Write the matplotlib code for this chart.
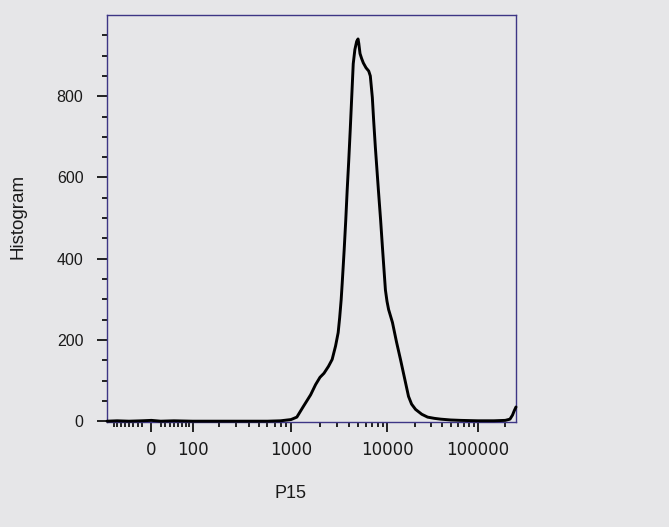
import numpy as np
import matplotlib
matplotlib.use("Agg")
import matplotlib.pyplot as plt
from matplotlib.ticker import FixedLocator, NullFormatter

# ---- data ----
fl_values = [-110, -80, -50, -20, 0, 20, 50, 100, 200, 400, 600, 800, 1000, 1150, 1334,
             1600, 1800, 2000, 2200, 2450, 2674, 2900, 3087, 3200, 3316, 3400, 3479, 3563,
             3700, 3828, 3970, 4115, 4270, 4423, 4600, 4800, 4958, 5050, 5200, 5400, 5626,
             6000, 6400, 6646, 6800, 6975, 7200, 7499, 8061, 8500, 8872, 9200, 9531, 9900,
             10300, 11365, 12600, 13945, 15500, 17113, 18500, 20470,
             24000, 27826, 33000, 38930, 50000, 64700, 100000, 150000, 200000,
             225000, 240000, 250000, 262144]
counts = [0, 1, 0, 1, 2, 0, 1, 0, 0, 0, 0, 1, 4, 10, 35,
          65, 90, 108, 118, 135, 152, 185, 218, 255, 299, 340, 380, 422,
          495, 569, 640, 716, 800, 880, 915, 935, 941, 930, 905, 893, 882,
          870, 862, 850, 825, 797, 740, 674, 569, 495, 429, 375, 323, 295,
          275, 243, 195, 152, 105, 61, 42, 29,
          17, 10, 7, 5, 3, 2, 1, 1, 2,
          5, 15, 25, 35]

x_ticks = [0, 100, 1000, 10000, 100000]
x_tick_labels = ["0", "100", "1000", "10000", "100000"]
y_ticks = [0, 200, 400, 600, 800]
x_label = "P15"
y_label = "Histogram"

# ---- biexponential-like display scale ----
_anchor_vals = np.array([-1e7, -1000, -100, 0, 100, 1000, 10000, 100000, 262144, 1e7])
_anchor_pos = np.array([-600.0, -139, -41, 0, 41, 139, 235, 325, 363, 700])
_anchor_u = np.arcsinh(_anchor_vals / 100.0)
_slope = (_anchor_pos[8] - _anchor_pos[7]) / (_anchor_u[8] - _anchor_u[7])
_anchor_pos[9] = _anchor_pos[8] + _slope * (_anchor_u[9] - _anchor_u[8])
_anchor_pos[0] = _anchor_pos[1] - _slope * (_anchor_u[1] - _anchor_u[0])


def fwd(x):
    x = np.asarray(x, dtype=float)
    return np.interp(np.arcsinh(x / 100.0), _anchor_u, _anchor_pos)


def inv(p):
    p = np.asarray(p, dtype=float)
    return 100.0 * np.sinh(np.interp(p, _anchor_pos, _anchor_u))


bg = "#e6e6e8"
plt.rcParams["font.family"] = ["Liberation Sans", "DejaVu Sans"]

fig = plt.figure(figsize=(6.69, 5.27), dpi=100, facecolor=bg)
ax = fig.add_axes([107 / 669, 1 - 422 / 527, (516 - 107) / 669, (422 - 15) / 527])
ax.set_facecolor(bg)
ax.set_xscale("function", functions=(fwd, inv))

ax.plot(fl_values, counts, color="black", lw=2.1, solid_joinstyle="round",
        solid_capstyle="round", clip_on=False, zorder=3)

ax.set_xlim(-110, 262144)
ax.set_ylim(-2, 1000)

ax.xaxis.set_major_locator(FixedLocator(x_ticks))
ax.set_xticklabels(x_tick_labels, fontfamily="DejaVu Sans", fontsize=12)
minor_x = ([-90, -80, -70, -60, -50, -40, -30, -20, 20, 30, 40, 50, 60, 70, 80, 90]
           + [m * 10 ** d for d in (2, 3, 4) for m in range(2, 10)] + [200000])
ax.xaxis.set_minor_locator(FixedLocator(minor_x))
ax.xaxis.set_minor_formatter(NullFormatter())

ax.set_yticks(y_ticks)
ax.set_yticklabels([str(v) for v in y_ticks], fontsize=11.5)
ax.yaxis.set_minor_locator(FixedLocator(np.arange(50, 1000, 50)))

for s in ["left", "right", "top", "bottom"]:
    ax.spines[s].set_color("#3d3585")
    ax.spines[s].set_linewidth(1.0)

ax.tick_params(axis="both", which="major", direction="out", length=7, width=1.2,
               color="black", labelcolor="#1a1a1a")
ax.tick_params(axis="y", which="major", pad=10)
ax.tick_params(axis="x", which="major", pad=7)
ax.tick_params(axis="both", which="minor", direction="out", length=3.5, width=1.2, color="black")
ax.tick_params(top=False, right=False, which="both")

ax.set_xlabel(x_label, fontsize=13, color="#1a1a1a")
ax.xaxis.set_label_coords((291 - 107) / 409, (422 - 494) / 407)
ax.xaxis.label.set_verticalalignment("center")
ax.set_ylabel(y_label, fontsize=13.5, color="#1a1a1a")
ax.yaxis.set_label_coords((17.5 - 107) / 409, (422 - 216) / 407)
ax.yaxis.label.set_verticalalignment("center")

fig.savefig("out.png", dpi=100, facecolor=bg)
